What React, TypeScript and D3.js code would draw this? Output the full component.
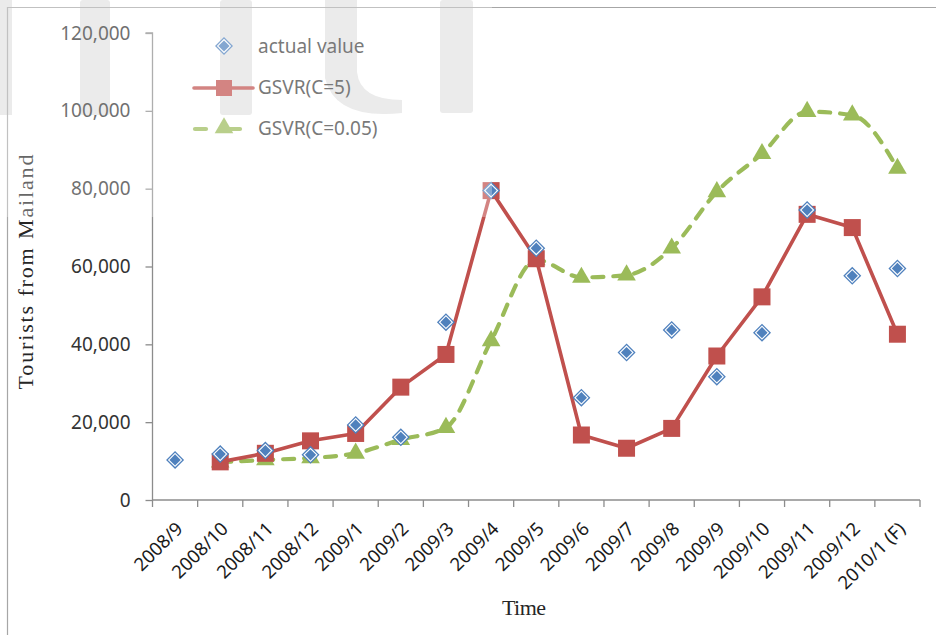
import { useEffect, useRef } from "react"
import * as d3 from "d3"

const months = [
  "2008/9", "2008/10", "2008/11", "2008/12", "2009/1", "2009/2", "2009/3", "2009/4", "2009/5",
  "2009/6", "2009/7", "2009/8", "2009/9", "2009/10", "2009/11", "2009/12", "2010/1 (F)",
]
const actualValue = [10300, 11800, 12700, 11600, 19300, 16100, 45700, 79500, 64700, 26300, 37900, 43700, 31700, 43000, 74500, 57600, 59500]
const gsvrC5 = [null, 9800, 12000, 15200, 17100, 29000, 37400, 79500, 62000, 16700, 13300, 18400, 37000, 52200, 73400, 70000, 42600]
const gsvrC005 = [null, 9700, 10300, 10800, 12000, 15500, 18600, 40900, 61700, 57200, 57800, 64700, 79200, 89000, 99800, 98900, 85200]
const yTicks = [0, 20000, 40000, 60000, 80000, 100000, 120000]

const W = 936
const H = 635
const BLUE = "#4f81bd"
const RED = "#c0504d"
const GREEN = "#9bbb59"
const SANS = "'Noto Sans', 'Open Sans', sans-serif"
const SERIF = "'Liberation Serif', 'DejaVu Serif', serif"

function diamond(g: any, x: number, y: number) {
  const d = (r: number) => `M${x},${y - r}L${x + r},${y}L${x},${y + r}L${x - r},${y}Z`
  g.append("path").attr("d", d(9)).attr("fill", BLUE)
  g.append("path").attr("d", d(7.2)).attr("fill", "#fff")
  g.append("path").attr("d", d(5.6)).attr("fill", BLUE)
}

export default function App() {
  const svgRef = useRef<SVGSVGElement>(null)

  useEffect(() => {
    if (!svgRef.current) return
    const svg = d3.select(svgRef.current)
    svg.selectAll("*").remove()

    const margin = { top: 33, right: 16, bottom: 135, left: 152.5 }
    const innerW = W - margin.left - margin.right
    const innerH = H - margin.top - margin.bottom

    // watermark shapes behind
    const wm = svg.append("g").attr("fill", "#e2e2e2")
    wm.append("rect").attr("x", 0).attr("y", 0).attr("width", 12).attr("height", 115)
    wm.append("rect").attr("x", 80).attr("y", 0).attr("width", 30).attr("height", 115).attr("rx", 3)
    wm.append("rect").attr("x", 220).attr("y", 0).attr("width", 32).attr("height", 115).attr("rx", 3)
    wm.append("path").attr("d", "M325,0L357,0L357,72Q360,100 402,100L402,113Q335,120 325,78Z")
    wm.append("rect").attr("x", 440).attr("y", 0).attr("width", 33).attr("height", 113).attr("rx", 3)

    // chart area border
    svg.append("path").attr("d", `M7.5,${H}L7.5,7.5L${W},7.5`).attr("fill", "none").attr("stroke", "#a6a6a6").attr("stroke-width", 1.2)

    const x = d3.scaleBand().domain(months).range([0, innerW])
    const y = d3.scaleLinear().domain([0, 120000]).range([innerH, 0])
    const cx = (i: number) => (x(months[i]) || 0) + x.bandwidth() / 2

    const g = svg.append("g").attr("transform", `translate(${margin.left},${margin.top})`)

    // y axis
    const yAxis = g.append("g").call(d3.axisLeft(y).tickValues(yTicks).tickFormat(d3.format(",")).tickSize(7).tickPadding(15))
    yAxis.select(".domain").attr("stroke", "#8c8c8c").attr("stroke-width", 1.3).attr("d", `M-7,0H0V${innerH}`)
    yAxis.selectAll(".tick line").attr("stroke", "#8c8c8c").attr("stroke-width", 1.3)
    yAxis.selectAll("text").attr("fill", "#333").style("font-family", SANS).style("font-size", "19px")

    // x axis
    const xAxis = g.append("g").attr("transform", `translate(0,${innerH})`)
    xAxis.append("line").attr("x1", 0).attr("x2", innerW).attr("stroke", "#8c8c8c").attr("stroke-width", 1.3)
    xAxis.selectAll("line.tk").data(d3.range(months.length + 1)).enter().append("line")
      .attr("class", "tk")
      .attr("x1", (i) => i * x.bandwidth()).attr("x2", (i) => i * x.bandwidth())
      .attr("y1", 0).attr("y2", 7).attr("stroke", "#8c8c8c").attr("stroke-width", 1.3)
    xAxis.selectAll("text").data(months).enter().append("text")
      .attr("transform", (d, i) => `translate(${cx(i) + 9},${30}) rotate(-45)`)
      .attr("text-anchor", "end")
      .attr("fill", "#1a1a1a")
      .style("font-family", SANS)
      .style("font-size", "18.5px")
      .text((d) => d)

    // GSVR(C=0.05) dashed smooth line
    const greenPts = gsvrC005.map((v, i) => [i, v] as [number, number | null]).filter((d) => d[1] != null) as [number, number][]
    const greenLine = d3.line<[number, number]>().x((d) => cx(d[0])).y((d) => y(d[1])).curve(d3.curveMonotoneX)
    g.append("path").datum(greenPts).attr("d", greenLine).attr("fill", "none")
      .attr("stroke", GREEN).attr("stroke-width", 4.2).attr("stroke-dasharray", "11 10").attr("stroke-linecap", "round")

    // GSVR(C=5) line
    const redPts = gsvrC5.map((v, i) => [i, v] as [number, number | null]).filter((d) => d[1] != null) as [number, number][]
    const redLine = d3.line<[number, number]>().x((d) => cx(d[0])).y((d) => y(d[1]))
    g.append("path").datum(redPts).attr("d", redLine).attr("fill", "none")
      .attr("stroke", RED).attr("stroke-width", 3.6).attr("stroke-linejoin", "round")

    // triangles
    const tri = d3.symbol().type(d3.symbolTriangle).size(150)
    g.selectAll(".tri").data(greenPts).enter().append("path")
      .attr("class", "tri").attr("d", tri)
      .attr("transform", (d) => `translate(${cx(d[0])},${y(d[1])})`)
      .attr("fill", GREEN)

    // squares
    g.selectAll(".sq").data(redPts).enter().append("rect")
      .attr("class", "sq")
      .attr("x", (d) => cx(d[0]) - 8.5).attr("y", (d) => y(d[1]) - 8.5)
      .attr("width", 17).attr("height", 17).attr("fill", RED)

    // diamonds
    actualValue.forEach((v, i) => diamond(g, cx(i), y(v)))

    // legend
    const lg = svg.append("g")
    diamond(lg, 224, 46)
    lg.append("line").attr("x1", 194).attr("x2", 253).attr("y1", 88).attr("y2", 88).attr("stroke", RED).attr("stroke-width", 3.6).attr("stroke-linecap", "round")
    lg.append("rect").attr("x", 216).attr("y", 80).attr("width", 16).attr("height", 16).attr("fill", RED)
    lg.append("line").attr("x1", 195).attr("x2", 253).attr("y1", 129).attr("y2", 129).attr("stroke", GREEN).attr("stroke-width", 4.2).attr("stroke-dasharray", "11 23").attr("stroke-linecap", "round")
    lg.append("path").attr("d", tri).attr("transform", "translate(224,128)").attr("fill", GREEN)
    const legendItems = ["actual value", "GSVR(C=5)", "GSVR(C=0.05)"]
    lg.selectAll("text").data(legendItems).enter().append("text")
      .attr("x", 258).attr("y", (d, i) => 53 + i * 41)
      .attr("fill", "#404040")
      .style("font-family", SANS).style("font-size", "19px")
      .text((d) => d)

    // axis titles
    svg.append("text").attr("transform", "translate(33,272) rotate(-90)")
      .attr("text-anchor", "middle").attr("fill", "#262626")
      .attr("textLength", 235).attr("lengthAdjust", "spacing")
      .style("font-family", SERIF).style("font-size", "22px")
      .text("Tourists from Mailand")
    svg.append("text").attr("x", 502).attr("y", 615)
      .attr("fill", "#262626")
      .attr("textLength", 44).attr("lengthAdjust", "spacing")
      .style("font-family", SERIF).style("font-size", "22px")
      .text("Time")

    // translucent watermark veil over top-left
    svg.append("rect").attr("x", 0).attr("y", 0).attr("width", 492).attr("height", 217).attr("fill", "#fff").attr("opacity", 0.3)
  }, [])

  return (
    <div style={{ position: "absolute", left: 0, top: 0, width: W, height: H, background: "#fff" }}>
      <svg ref={svgRef} width={W} height={H} style={{ display: "block" }} />
    </div>
  )
}
